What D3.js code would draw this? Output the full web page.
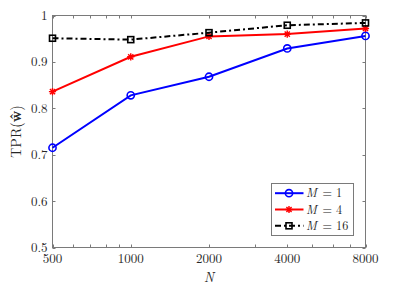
<!DOCTYPE html>
<html><head><meta charset="utf-8">
<script src="https://cdn.jsdelivr.net/npm/d3@7"></script>
<style>body{margin:0;background:#fff}svg{display:block}</style>
</head><body><svg id="c" width="395" height="287"></svg>
<script>
const Ns = [500, 1000, 2000, 4000, 8000];
const tprM1 = [0.715, 0.828, 0.868, 0.929, 0.956];
const tprM4 = [0.836, 0.911, 0.955, 0.960, 0.972];
const tprM16 = [0.951, 0.948, 0.963, 0.979, 0.984];
const seriesLabels = ["1", "4", "16"];
const yTicks = [0.5, 0.6, 0.7, 0.8, 0.9, 1];
const xTicks = [500, 1000, 2000, 4000, 8000];
const xMinorTicks = [600, 700, 800, 900, 3000, 5000, 6000, 7000];

const svg = d3.select("#c");
const L = 52.5, R = 365.5, T = 15.5, B = 247.5;
const x = d3.scaleLog().base(2).domain([500, 8000]).range([L, R]);
const y = d3.scaleLinear().domain([0.5, 1]).range([B, T]);
const axisCol = "#7a7a7a", textCol = "#262626";
const font = "'Latin Modern Roman', 'Liberation Serif', serif";

svg.append("rect").attr("x", L).attr("y", T).attr("width", R - L).attr("height", B - T)
  .attr("fill", "#fff").attr("stroke", axisCol).attr("stroke-width", 1);

const tl = 3;
const g = svg.append("g");
xTicks.concat(xMinorTicks).forEach(v => {
  const px = Math.round(x(v)) + 0.5;
  g.append("line").attr("x1", px).attr("x2", px).attr("y1", B).attr("y2", B - tl).attr("stroke", axisCol);
  g.append("line").attr("x1", px).attr("x2", px).attr("y1", T).attr("y2", T + tl).attr("stroke", axisCol);
});
yTicks.forEach(v => {
  const py = Math.round(y(v)) + 0.5;
  g.append("line").attr("x1", L).attr("x2", L + tl).attr("y1", py).attr("y2", py).attr("stroke", axisCol);
  g.append("line").attr("x1", R).attr("x2", R - tl).attr("y1", py).attr("y2", py).attr("stroke", axisCol);
});

// tick labels
svg.append("g").selectAll("text").data(xTicks).join("text")
  .attr("x", d => x(d)).attr("y", B + 15).attr("text-anchor", "middle")
  .attr("font-family", font).attr("font-size", 13).attr("fill", textCol)
  .text(d => d);
svg.append("g").selectAll("text").data(yTicks).join("text")
  .attr("x", L - 5).attr("y", d => y(d) + 4.5).attr("text-anchor", "end")
  .attr("font-family", font).attr("font-size", 13).attr("fill", textCol)
  .text(d => d === 1 ? "1" : d.toFixed(1));

// axis labels
svg.append("text").attr("x", (L + R) / 2).attr("y", 281.5).attr("text-anchor", "middle")
  .attr("font-family", font).attr("font-size", 13.5).attr("font-style", "italic").attr("fill", textCol).text("N");
const yl = svg.append("text").attr("transform", `translate(20.5,${(T + B) / 2}) rotate(-90)`)
  .attr("text-anchor", "middle").attr("font-family", font).attr("font-size", 14).attr("fill", textCol);
yl.append("tspan").text("TPR(");
yl.append("tspan").attr("font-weight", "bold").text("ŵ");
yl.append("tspan").text(")");

// series
const series = [
  {vals: tprM1, color: "#0000ff", dash: null, marker: "circle"},
  {vals: tprM4, color: "#ff0000", dash: null, marker: "star"},
  {vals: tprM16, color: "#000000", dash: "6,3,2,3", marker: "square"}
];
const line = d3.line().x(d => x(d[0])).y(d => y(d[1]));
function marker(sel, type, color, cx, cy) {
  if (type === "circle") {
    sel.append("circle").attr("cx", cx).attr("cy", cy).attr("r", 3.6)
      .attr("fill", "none").attr("stroke", color).attr("stroke-width", 1.6);
  } else if (type === "square") {
    sel.append("rect").attr("x", cx - 3).attr("y", cy - 3).attr("width", 6).attr("height", 6)
      .attr("fill", "none").attr("stroke", color).attr("stroke-width", 1.6);
  } else {
    const s = 3.6, d = s * 0.72;
    sel.append("path").attr("d",
      `M${cx - s},${cy}L${cx + s},${cy}M${cx},${cy - s}L${cx},${cy + s}` +
      `M${cx - d},${cy - d}L${cx + d},${cy + d}M${cx - d},${cy + d}L${cx + d},${cy - d}`)
      .attr("stroke", color).attr("stroke-width", 1.4).attr("fill", "none");
  }
}
series.forEach(s => {
  const pts = Ns.map((n, i) => [n, s.vals[i]]);
  svg.append("path").attr("d", line(pts)).attr("fill", "none").attr("stroke", s.color)
    .attr("stroke-width", 2).attr("stroke-dasharray", s.dash);
  const mg = svg.append("g");
  pts.forEach(p => marker(mg, s.marker, s.color, x(p[0]), y(p[1])));
});

// legend
const lg = svg.append("g");
lg.append("rect").attr("x", 271.5).attr("y", 183.5).attr("width", 82).attr("height", 52)
  .attr("fill", "#fff").attr("stroke", "#7a7a7a").attr("stroke-width", 1);
series.forEach((s, i) => {
  const cy = 193.2 + i * 16.3;
  lg.append("line").attr("x1", 275).attr("x2", 303.5).attr("y1", cy).attr("y2", cy)
    .attr("stroke", s.color).attr("stroke-width", 2).attr("stroke-dasharray", s.dash);
  marker(lg, s.marker, s.color, 289, cy);
  lg.append("text").attr("x", 306).attr("y", cy + 4.2)
    .attr("font-family", font).attr("font-size", 12.2).attr("font-style", "italic").attr("fill", textCol).text("M");
  lg.append("text").attr("x", 322.5).attr("y", cy + 4.2)
    .attr("font-family", font).attr("font-size", 12.2).attr("fill", textCol).text("= " + seriesLabels[i]);
});
</script></body></html>
